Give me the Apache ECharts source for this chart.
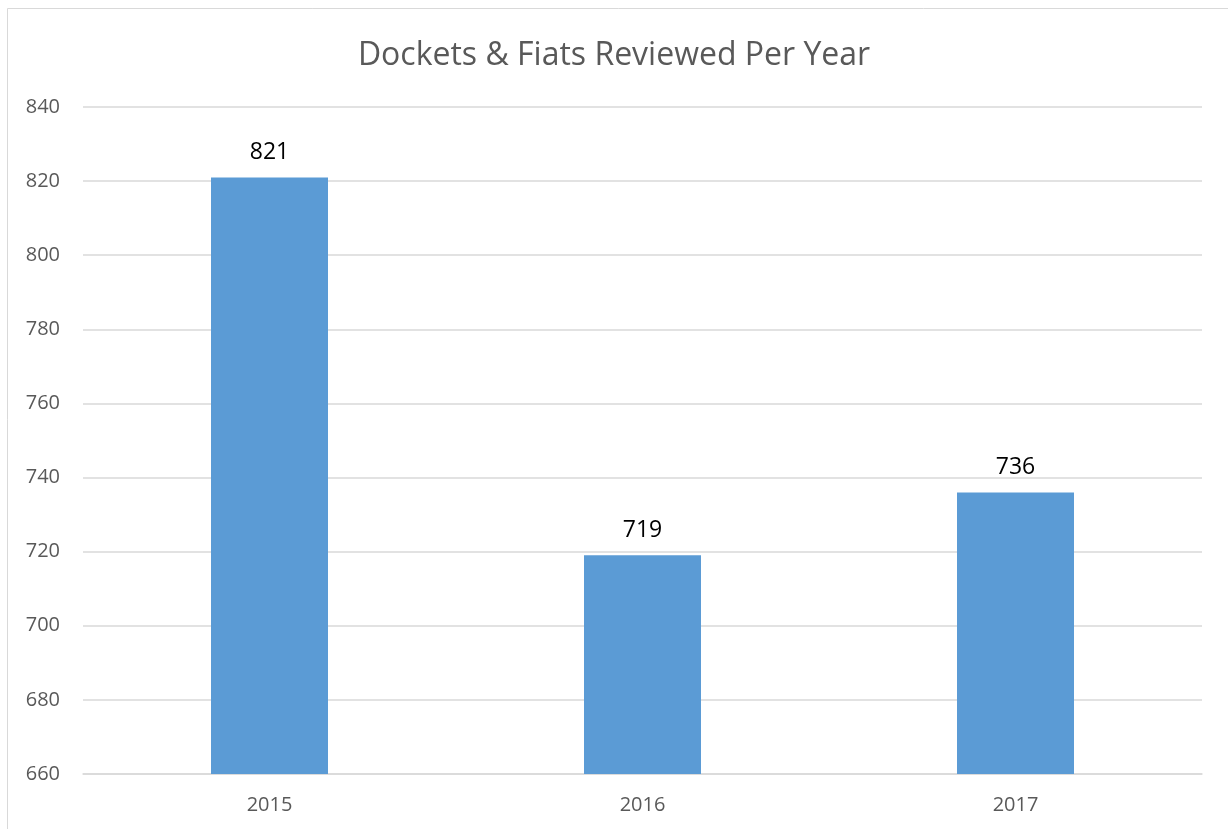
<!DOCTYPE html>
<html>
<head>
<meta charset="utf-8">
<script src="https://cdn.jsdelivr.net/npm/echarts@6/dist/echarts.min.js"></script>
<style>
  html, body { margin: 0; padding: 0; background: #fff; }
  #chart { width: 1228px; height: 829px; }
</style>
</head>
<body>
<div id="chart"></div>
<script>
// Yearly review counts
const years = ['2015', '2016', '2017'];
const reviewed = [821, 719, 736];

const chart = echarts.init(document.getElementById('chart'));
chart.setOption({
  animation: false,
  backgroundColor: '#ffffff',
  title: {
    text: 'Dockets & Fiats Reviewed Per Year',
    left: 'center',
    top: 35,
    textStyle: {
      fontFamily: 'Open Sans',
      fontSize: 32,
      fontWeight: 'normal',
      color: '#595959'
    }
  },
  graphic: [{
    type: 'rect',
    shape: { x: 7.5, y: 8.5, width: 1400, height: 1000 },
    style: { fill: 'none', stroke: '#d9d9d9', lineWidth: 1 },
    silent: true
  }],
  grid: { left: 83, right: 26, top: 107, bottom: 55 },
  xAxis: {
    type: 'category',
    data: years,
    axisLine: { show: true, lineStyle: { color: '#d9d9d9', width: 1.5 } },
    axisTick: { show: false },
    axisLabel: {
      fontFamily: 'Open Sans',
      fontSize: 20,
      color: '#595959',
      margin: 21
    }
  },
  yAxis: {
    type: 'value',
    min: 660,
    max: 840,
    interval: 20,
    axisLine: { show: false },
    axisTick: { show: false },
    splitLine: { lineStyle: { color: '#d9d9d9', width: 1.5 } },
    axisLabel: {
      fontFamily: 'Open Sans',
      fontSize: 20,
      color: '#595959',
      margin: 23
    }
  },
  series: [{
    type: 'bar',
    data: reviewed,
    barWidth: 117,
    itemStyle: { color: '#5b9bd5' },
    label: {
      show: true,
      position: 'top',
      distance: 13,
      fontFamily: 'Open Sans',
      fontSize: 23,
      color: '#000000'
    }
  }]
});
</script>
</body>
</html>
